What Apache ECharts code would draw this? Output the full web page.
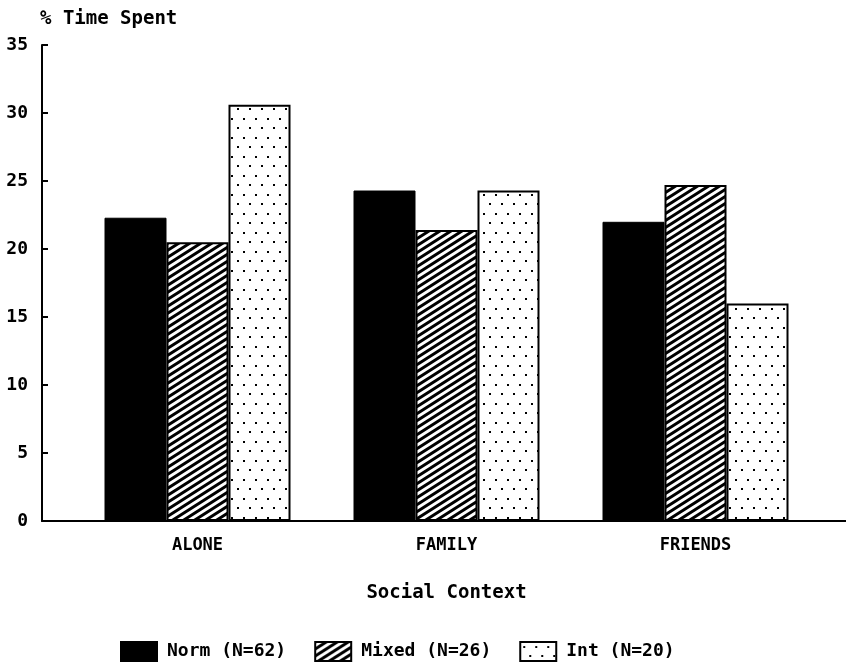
<!DOCTYPE html>
<html>
<head>
<meta charset="utf-8">
<script src="https://cdn.jsdelivr.net/npm/echarts@6/dist/echarts.min.js"></script>
<style>
    html, body { margin: 0; padding: 0; background: #fff; }
    #chart { width: 846px; height: 662px; }
</style>
</head>
<body>
<div id="chart"></div>
<script>
    var categories = ['ALONE', 'FAMILY', 'FRIENDS'];
    var seriesNames = ['Norm (N=62)', 'Mixed (N=26)', 'Int (N=20)'];
    var normData = [22.3, 24.3, 22.0];
    var mixedData = [20.5, 21.4, 24.7];
    var intData = [30.6, 24.3, 16.0];
    var yTicks = [0, 5, 10, 15, 20, 25, 30, 35];

    var font = 'DejaVu Sans Mono';

    //斜线填充
    function hatchPattern() {
        var w = 11, h = 7;
        var c = document.createElement('canvas');
        c.width = w;
        c.height = h;
        var ctx = c.getContext('2d');
        ctx.fillStyle = '#fff';
        ctx.fillRect(0, 0, w, h);
        ctx.strokeStyle = '#000';
        ctx.lineWidth = 3;
        ctx.beginPath();
        for (var k = -1; k <= 1; k++) {
            ctx.moveTo(-w, h * k + 2 * h);
            ctx.lineTo(2 * w, h * k - h);
        }
        ctx.stroke();
        return c;
    }
    //点状填充
    function dotPattern() {
        var c = document.createElement('canvas');
        c.width = 12;
        c.height = 19;
        var ctx = c.getContext('2d');
        ctx.fillStyle = '#fff';
        ctx.fillRect(0, 0, 12, 19);
        ctx.fillStyle = '#000';
        ctx.fillRect(3, 4, 2, 2);
        ctx.fillRect(9, 13, 2, 2);
        return c;
    }

    var chart = echarts.init(document.getElementById('chart'));

    var option = {
        backgroundColor: '#fff',
        animation: false,
        legend: {
            top: 636,
            left: 115,
            icon: 'rect',
            itemWidth: 36,
            itemHeight: 19,
            itemGap: 28,
            textStyle: { color: '#000', fontFamily: font, fontWeight: 'bold', fontSize: 18, padding: [0, 0, 0, 5] },
            data: seriesNames
        },
        grid: [
            { left: 73, right: 26, top: 45, bottom: 141 },
            { left: 42, right: 0, top: 45, bottom: 141 }
        ],
        xAxis: [
            {
                type: 'category',
                data: categories,
                gridIndex: 0,
                axisLine: { show: false },
                axisTick: { show: false },
                axisLabel: { margin: 16, color: '#000', fontFamily: font, fontWeight: 'bold', fontSize: 17 },
                name: 'Social Context',
                nameLocation: 'middle',
                nameGap: 63,
                nameTextStyle: { color: '#000', fontFamily: font, fontWeight: 'bold', fontSize: 19 }
            },
            {
                type: 'value',
                gridIndex: 1,
                min: 0,
                max: 1,
                axisLine: { show: true, lineStyle: { color: '#000', width: 2 } },
                axisTick: { show: false },
                axisLabel: { show: false },
                splitLine: { show: false }
            }
        ],
        yAxis: [
            {
                type: 'value',
                gridIndex: 0,
                min: yTicks[0],
                max: yTicks[yTicks.length - 1],
                interval: 5,
                offset: 31,
                axisLine: { show: true, lineStyle: { color: '#000', width: 2 } },
                axisTick: { show: true, inside: true, length: 6, lineStyle: { color: '#000', width: 2 } },
                axisLabel: { margin: 14, color: '#000', fontFamily: font, fontWeight: 'bold', fontSize: 18 },
                splitLine: { show: false },
                name: '% Time Spent',
                nameLocation: 'end',
                nameGap: 16,
                nameTextStyle: { color: '#000', fontFamily: font, fontWeight: 'bold', fontSize: 19, align: 'left', padding: [0, 0, 0, -2] }
            },
            {
                type: 'value',
                gridIndex: 1,
                min: 0,
                max: 35,
                show: false
            }
        ],
        series: [
            {
                name: seriesNames[0],
                type: 'bar',
                data: normData,
                barWidth: 62,
                barGap: '0%',
                itemStyle: { color: '#000', borderColor: '#000', borderWidth: 1 }
            },
            {
                name: seriesNames[1],
                type: 'bar',
                data: mixedData,
                barWidth: 62,
                barGap: '0%',
                itemStyle: { color: { image: hatchPattern(), repeat: 'repeat' }, borderColor: '#000', borderWidth: 2 }
            },
            {
                name: seriesNames[2],
                type: 'bar',
                data: intData,
                barWidth: 62,
                barGap: '0%',
                itemStyle: { color: { image: dotPattern(), repeat: 'repeat' }, borderColor: '#000', borderWidth: 2 }
            }
        ]
    };
    chart.setOption(option);
</script>
</body>
</html>
